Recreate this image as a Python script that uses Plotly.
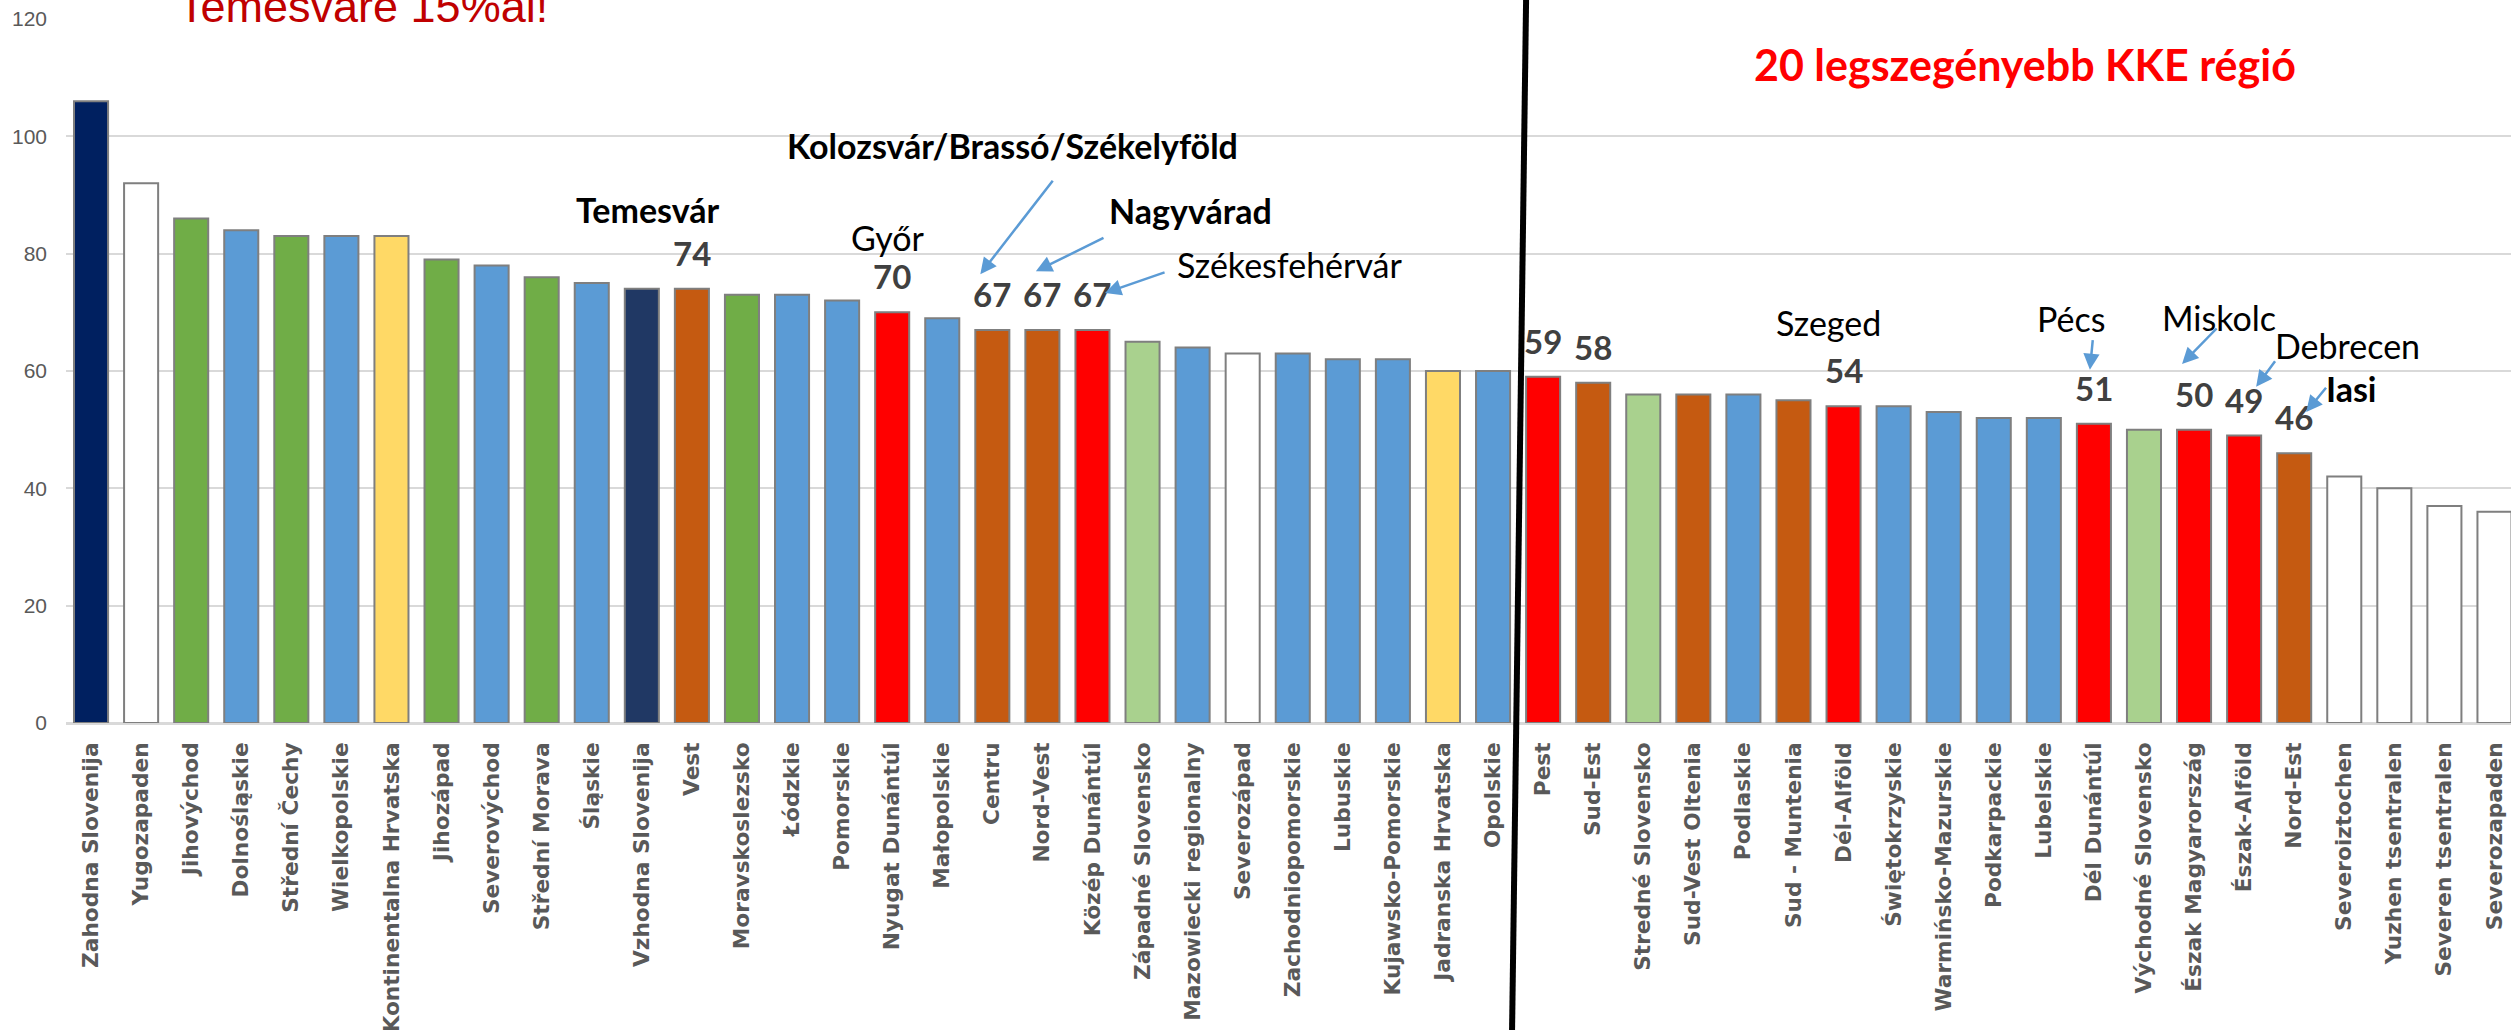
import plotly.graph_objects as go

# regions, sorted by GDP/capita (PPS, EU=100)
regions = [
    'Zahodna Slovenija', 'Yugozapaden', 'Jihovýchod', 'Dolnośląskie', 'Střední Čechy',
    'Wielkopolskie', 'Kontinentalna Hrvatska', 'Jihozápad', 'Severovýchod', 'Střední Morava',
    'Śląskie', 'Vzhodna Slovenija', 'Vest', 'Moravskoslezsko', 'Łódzkie',
    'Pomorskie', 'Nyugat Dunántúl', 'Małopolskie', 'Centru', 'Nord-Vest',
    'Közép Dunántúl', 'Západné Slovensko', 'Mazowiecki regionalny', 'Severozápad', 'Zachodniopomorskie',
    'Lubuskie', 'Kujawsko-Pomorskie', 'Jadranska Hrvatska', 'Opolskie', 'Pest',
    'Sud-Est', 'Stredné Slovensko', 'Sud-Vest Oltenia', 'Podlaskie', 'Sud - Muntenia',
    'Dél-Alföld', 'Świętokrzyskie', 'Warmińsko-Mazurskie', 'Podkarpackie', 'Lubelskie',
    'Dél Dunántúl', 'Východné Slovensko', 'Észak Magyarország', 'Észak-Alföld', 'Nord-Est',
    'Severoiztochen', 'Yuzhen tsentralen', 'Severen tsentralen', 'Severozapaden',
]
values = [
    106, 92, 86, 84, 83,
    83, 83, 79, 78, 76,
    75, 74, 74, 73, 73,
    72, 70, 69, 67, 67,
    67, 65, 64, 63, 63,
    62, 62, 60, 60, 59,
    58, 56, 56, 56, 55,
    54, 54, 53, 52, 52,
    51, 50, 50, 49, 46,
    42, 40, 37, 36,
]
# country group of each bar (drives the fill colour)
groups = [
    'SI_W', 'BG', 'CZ', 'PL', 'CZ',
    'PL', 'HR', 'CZ', 'PL', 'CZ',
    'PL', 'SI_E', 'RO', 'CZ', 'PL',
    'PL', 'HU', 'PL', 'RO', 'RO',
    'HU', 'SK', 'PL', 'BG', 'PL',
    'PL', 'PL', 'HR', 'PL', 'HU',
    'RO', 'SK', 'RO', 'PL', 'RO',
    'HU', 'PL', 'PL', 'PL', 'PL',
    'HU', 'SK', 'HU', 'HU', 'RO',
    'BG', 'BG', 'BG', 'BG',
]
group_colors = {
    'SI_W': '#002060', 'SI_E': '#203864', 'BG': '#FFFFFF', 'CZ': '#70AD47',
    'PL': '#5B9BD5', 'HR': '#FFD966', 'RO': '#C55A11', 'HU': '#FF0000', 'SK': '#A9D18E',
}

# bars that get a value label
labelled = ['Vest', 'Nyugat Dunántúl', 'Centru', 'Nord-Vest', 'Közép Dunántúl', 'Pest', 'Sud-Est',
            'Dél-Alföld', 'Dél Dunántúl', 'Észak Magyarország', 'Észak-Alföld', 'Nord-Est']

# city callouts: (text, bold, x, y)
city_labels = [
    ('Temesvár', True, 11.12, 87.6),
    ('Győr', False, 15.92, 82.7),
    ('Kolozsvár/Brassó/Székelyföld', True, 18.41, 98.5),
    ('Nagyvárad', True, 21.95, 87.4),
    ('Székesfehérvár', False, 23.95, 78.1),
    ('Szeged', False, 34.69, 68.3),
    ('Pécs', False, 39.55, 69.0),
    ('Miskolc', False, 42.5, 69.2),
    ('Debrecen', False, 45.06, 64.4),
    ('Iasi', True, 45.14, 57.1),
]
# arrows: (tail x, tail y, head x, head y)
arrows = [
    (19.23, 92.7, 17.76, 76.5),
    (20.25, 82.8, 18.87, 77.0),
    (21.47, 76.9, 20.25, 73.3),
    (39.98, 65.5, 39.92, 60.2),
    (42.48, 67.5, 41.76, 61.2),
    (43.64, 61.9, 43.24, 57.3),
    (44.66, 57.4, 44.24, 53.0),
]

LABEL_FONT = 'Lato'

fig = go.Figure()
fig.add_trace(
    go.Bar(
        x=regions,
        y=values,
        width=0.68,
        marker=dict(color=[group_colors[g] for g in groups], line=dict(color='#7F7F7F', width=2)),
        hoverinfo='x+y',
    )
)

annotations = []
for name, v in zip(regions, values):
    if name in labelled:
        annotations.append(dict(
            x=regions.index(name), y=v, xref='x', yref='y', text=str(v), showarrow=False,
            yanchor='bottom', yshift=14,
            font=dict(family=LABEL_FONT, size=33, color='#404040', weight='bold'),
        ))

for text, bold, x, y in city_labels:
    annotations.append(dict(
        x=x, y=y, xref='x', yref='y', text=text, showarrow=False, yanchor='middle',
        font=dict(family=LABEL_FONT, size=34, color='black', weight='bold' if bold else 'normal'),
    ))

for tx, ty, hx, hy in arrows:
    annotations.append(dict(
        x=hx, y=hy, ax=tx, ay=ty, xref='x', yref='y', axref='x', ayref='y', text='',
        showarrow=True, arrowhead=2, arrowsize=1.3, arrowwidth=2.5, arrowcolor='#5B9BD5',
    ))

annotations.append(dict(
    x=38.63, y=112.2, xref='x', yref='y', text='20 legszegényebb KKE régió', showarrow=False,
    font=dict(family=LABEL_FONT, size=43, color='#FF0000', weight='bold'),
))
# headline at the top, mostly cut off by the crop of the original slide
annotations.append(dict(
    x=0.045, y=1.018, xref='paper', yref='paper', text='Temesváré 15%al!', showarrow=False,
    xanchor='left', yanchor='middle',
    font=dict(family='Liberation Sans', size=45, color='#C00000'),
))

fig.update_layout(
    width=2511,
    height=1030,
    margin=dict(l=66, r=0, t=19, b=307),
    plot_bgcolor='white',
    paper_bgcolor='white',
    showlegend=False,
    annotations=annotations,
    shapes=[dict(
        type='line', xref='x', yref='paper', x0=28.66, y0=1.027, x1=28.38, y1=-0.436,
        line=dict(color='black', width=6), layer='above',
    )],
    xaxis=dict(
        type='category',
        range=[-0.5, 48.33],
        tickangle=-90,
        tickfont=dict(family='DejaVu Sans', size=21.7, color='#595959', weight='bold'),
        ticklabelstandoff=14,
        showgrid=False,
        showline=False,
        ticks='',
        automargin=False,
    ),
    yaxis=dict(
        range=[0, 120],
        dtick=20,
        tickfont=dict(family='Liberation Sans', size=21, color='#595959'),
        gridcolor='#D9D9D9',
        gridwidth=2,
        zerolinecolor='#D9D9D9',
        zerolinewidth=3,
        ticklabelstandoff=18,
        ticks='',
        automargin=False,
    ),
)

# drop the browser's default body margin so the figure sits at the page corner
fig.write_html('out.html', config={'displayModeBar': False},
               post_script="document.body.style.margin='0';")
